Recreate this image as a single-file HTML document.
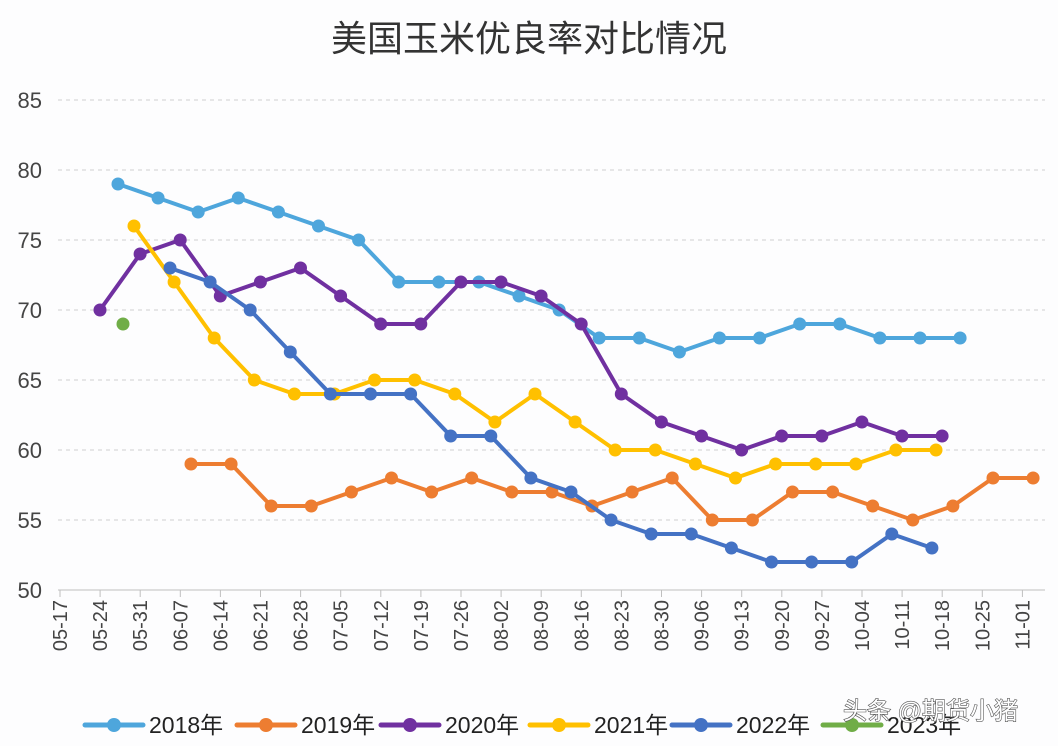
<!DOCTYPE html>
<html><head><meta charset="utf-8"><style>
html,body{margin:0;padding:0;background:#fdfdfe;}
svg{display:block;font-family:"Liberation Sans","Noto Sans CJK SC",sans-serif;}
</style></head><body>
<svg id="c" width="1058" height="746" viewBox="0 0 1058 746" xmlns="http://www.w3.org/2000/svg">
<rect width="1058" height="746" fill="#fdfdfe"/>
<text x="529" y="51" text-anchor="middle" font-size="36" fill="#333">美国玉米优良率对比情况</text>
</svg>
<script>
const s=document.getElementById('c');const NS='http://www.w3.org/2000/svg';
function el(t,a,txt){const e=document.createElementNS(NS,t);for(const k in a)e.setAttribute(k,a[k]);if(txt!=null)e.textContent=txt;s.appendChild(e);return e;}
const Y=v=>590-(v-50)*14;
for(let v=55;v<=85;v+=5){el('line',{x1:58,x2:1045,y1:Y(v),y2:Y(v),stroke:'#d0d0d0','stroke-dasharray':'4,4','stroke-width':1});}
el('line',{x1:58,x2:1045,y1:590,y2:590,stroke:'#bfbfbf','stroke-width':1});
for(let v=50;v<=85;v+=5)el('text',{x:42,y:Y(v)+8,'text-anchor':'end','font-size':22,fill:'#444'},v);
const labs=['05-17','05-24','05-31','06-07','06-14','06-21','06-28','07-05','07-12','07-19','07-26','08-02','08-09','08-16','08-23','08-30','09-06','09-13','09-20','09-27','10-04','10-11','10-18','10-25','11-01'];
labs.forEach((l,i)=>{const x=60+i*40.1;el('line',{x1:x,x2:x,y1:590,y2:597,stroke:'#bfbfbf'});el('text',{x:x+7,y:600,'text-anchor':'end','font-size':20,fill:'#444',transform:`rotate(-90 ${x+7} 600)`},l);});
const series=[
['#4ea6dc',118,[79,78,77,78,77,76,75,72,72,72,71,70,68,68,67,68,68,69,69,68,68,68]],
['#ed7d31',191,[59,59,56,56,57,58,57,58,57,57,56,57,58,55,55,57,57,56,55,56,58,58]],
['#7030a0',100,[70,74,75,71,72,73,71,69,69,72,72,71,69,64,62,61,60,61,61,62,61,61]],
['#ffc000',134,[76,72,68,65,64,64,65,65,64,62,64,62,60,60,59,58,59,59,59,60,60]],
['#4472c4',170,[73,72,70,67,64,64,64,61,61,58,57,55,54,54,53,52,52,52,54,53]],
['#70ad47',123,[69]]];
series.forEach(([c,x0,d])=>{const pts=d.map((v,i)=>[x0+i*40.1,Y(v)]);
if(pts.length>1)el('polyline',{points:pts.map(p=>p.join(',')).join(' '),fill:'none',stroke:c,'stroke-width':4,'stroke-linejoin':'round'});
pts.forEach(p=>el('circle',{cx:p[0],cy:p[1],r:6.5,fill:c}));});
const leg=[['2018年','#4ea6dc',85],['2019年','#ed7d31',237],['2020年','#7030a0',381],['2021年','#ffc000',530],['2022年','#4472c4',672],['2023年','#70ad47',823]];
leg.forEach(([t,c,x])=>{el('line',{x1:x,x2:x+58,y1:725,y2:725,stroke:c,'stroke-width':5,'stroke-linecap':'round'});el('circle',{cx:x+29,cy:725,r:7,fill:c});el('text',{x:x+64,y:733,'font-size':23,fill:'#222'},t);});
el('text',{x:843,y:719,'font-size':24,fill:'#fff',stroke:'#555','stroke-width':1.2,'paint-order':'stroke'},'头条 @期货小猪');
</script>
</body></html>
